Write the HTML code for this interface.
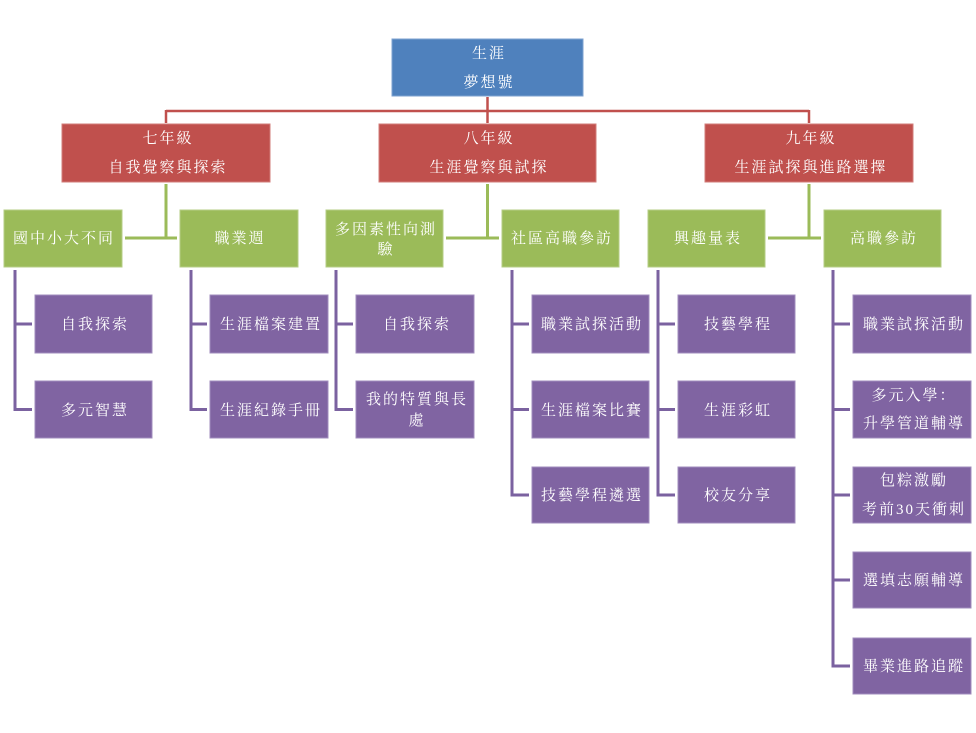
<!DOCTYPE html>
<html><head><meta charset="utf-8"><style>
html,body{margin:0;padding:0;background:#fff;}
svg{display:block;}
text{font-family:"Liberation Serif","Noto Serif CJK SC","Noto Sans CJK TC","Noto Sans CJK SC",serif;font-size:15px;fill:#fff;text-anchor:middle;letter-spacing:2px;}
</style></head><body>
<svg width="976" height="733" viewBox="0 0 976 733" xmlns="http://www.w3.org/2000/svg">
<g stroke="#c0504d" stroke-width="2.5" fill="none">
<line x1="487.5" y1="97" x2="487.5" y2="123"/>
<line x1="166" y1="111" x2="809" y2="111"/>
<line x1="166" y1="110" x2="166" y2="123"/>
<line x1="809" y1="110" x2="809" y2="123"/>
</g>
<g stroke="#9bbb59" stroke-width="3" fill="none">
<line x1="166" y1="184" x2="166" y2="238"/>
<line x1="125" y1="238" x2="177" y2="238"/>
<line x1="487.5" y1="184" x2="487.5" y2="238"/>
<line x1="446" y1="238" x2="499" y2="238"/>
<line x1="809" y1="184" x2="809" y2="238"/>
<line x1="768" y1="238" x2="821" y2="238"/>
</g>
<g stroke="#7b62a0" stroke-width="3" fill="none">
<polyline points="15,270 15,409.5 32,409.5"/>
<line x1="15" y1="324" x2="32" y2="324"/>
<polyline points="191,270 191,409.5 207,409.5"/>
<line x1="191" y1="324" x2="207" y2="324"/>
<polyline points="336,270 336,409.5 353,409.5"/>
<line x1="336" y1="324" x2="353" y2="324"/>
<polyline points="512,270 512,495 529,495"/>
<line x1="512" y1="324" x2="529" y2="324"/>
<line x1="512" y1="409.5" x2="529" y2="409.5"/>
<polyline points="658,270 658,495 675,495"/>
<line x1="658" y1="324" x2="675" y2="324"/>
<line x1="658" y1="409.5" x2="675" y2="409.5"/>
<polyline points="833,270 833,666 850,666"/>
<line x1="833" y1="324" x2="850" y2="324"/>
<line x1="833" y1="409.5" x2="850" y2="409.5"/>
<line x1="833" y1="495" x2="850" y2="495"/>
<line x1="833" y1="580" x2="850" y2="580"/>
</g>
<rect x="392" y="39" width="191" height="57" fill="#4f81bd" stroke="#7ea2d0" stroke-width="1"/>
<text x="489" y="58">生涯</text>
<text x="489" y="87">夢想號</text>
<g fill="#c0504d" stroke="#d27c79" stroke-width="1">
<rect x="62" y="124" width="208" height="58"/>
<rect x="379" y="124" width="217" height="58"/>
<rect x="705" y="124" width="208" height="58"/>
</g>
<text x="168" y="143">七年級</text>
<text x="168" y="172">自我覺察與探索</text>
<text x="489" y="143">八年級</text>
<text x="489" y="172">生涯覺察與試探</text>
<text x="811" y="143">九年級</text>
<text x="811" y="172">生涯試探與進路選擇</text>
<g fill="#9bbb59" stroke="#b5cd85" stroke-width="1">
<rect x="4" y="210" width="118" height="57"/>
<rect x="180" y="210" width="118" height="57"/>
<rect x="326" y="210" width="117" height="57"/>
<rect x="502" y="210" width="117" height="57"/>
<rect x="648" y="210" width="117" height="57"/>
<rect x="824" y="210" width="117" height="57"/>
</g>
<text x="64" y="243">國中小大不同</text>
<text x="240" y="243">職業週</text>
<text x="386" y="234">多因素性向測</text>
<text x="386" y="254">驗</text>
<text x="562" y="243">社區高職參訪</text>
<text x="708" y="243">興趣量表</text>
<text x="884" y="243">高職參訪</text>
<g fill="#8064a2" stroke="#a08cbd" stroke-width="1">
<rect x="35" y="295" width="117" height="58"/>
<rect x="35" y="381" width="117" height="57"/>
<rect x="210" y="295" width="118" height="58"/>
<rect x="210" y="381" width="118" height="57"/>
<rect x="356" y="295" width="118" height="58"/>
<rect x="356" y="381" width="118" height="57"/>
<rect x="532" y="295" width="117" height="58"/>
<rect x="532" y="381" width="117" height="57"/>
<rect x="532" y="467" width="117" height="56"/>
<rect x="678" y="295" width="117" height="58"/>
<rect x="678" y="381" width="117" height="57"/>
<rect x="678" y="467" width="117" height="56"/>
<rect x="853" y="295" width="118" height="58"/>
<rect x="853" y="381" width="118" height="57"/>
<rect x="853" y="467" width="118" height="56"/>
<rect x="853" y="552" width="118" height="56"/>
<rect x="853" y="638" width="118" height="56"/>
</g>
<text x="95" y="329">自我探索</text>
<text x="95" y="415">多元智慧</text>
<text x="271" y="329">生涯檔案建置</text>
<text x="271" y="415">生涯紀錄手冊</text>
<text x="417" y="404">我的特質與長</text>
<text x="417" y="425">處</text>
<text x="417" y="329">自我探索</text>
<text x="592" y="329">職業試探活動</text>
<text x="592" y="415">生涯檔案比賽</text>
<text x="592" y="500">技藝學程遴選</text>
<text x="738" y="329">技藝學程</text>
<text x="738" y="415">生涯彩虹</text>
<text x="738" y="500">校友分享</text>
<text x="914" y="329">職業試探活動</text>
<text x="914" y="400">多元入學：</text>
<text x="914" y="428">升學管道輔導</text>
<text x="914" y="485">包粽激勵</text>
<text x="914" y="514">考前30天衝刺</text>
<text x="914" y="585">選填志願輔導</text>
<text x="914" y="671">畢業進路追蹤</text>
</svg>
</body></html>
